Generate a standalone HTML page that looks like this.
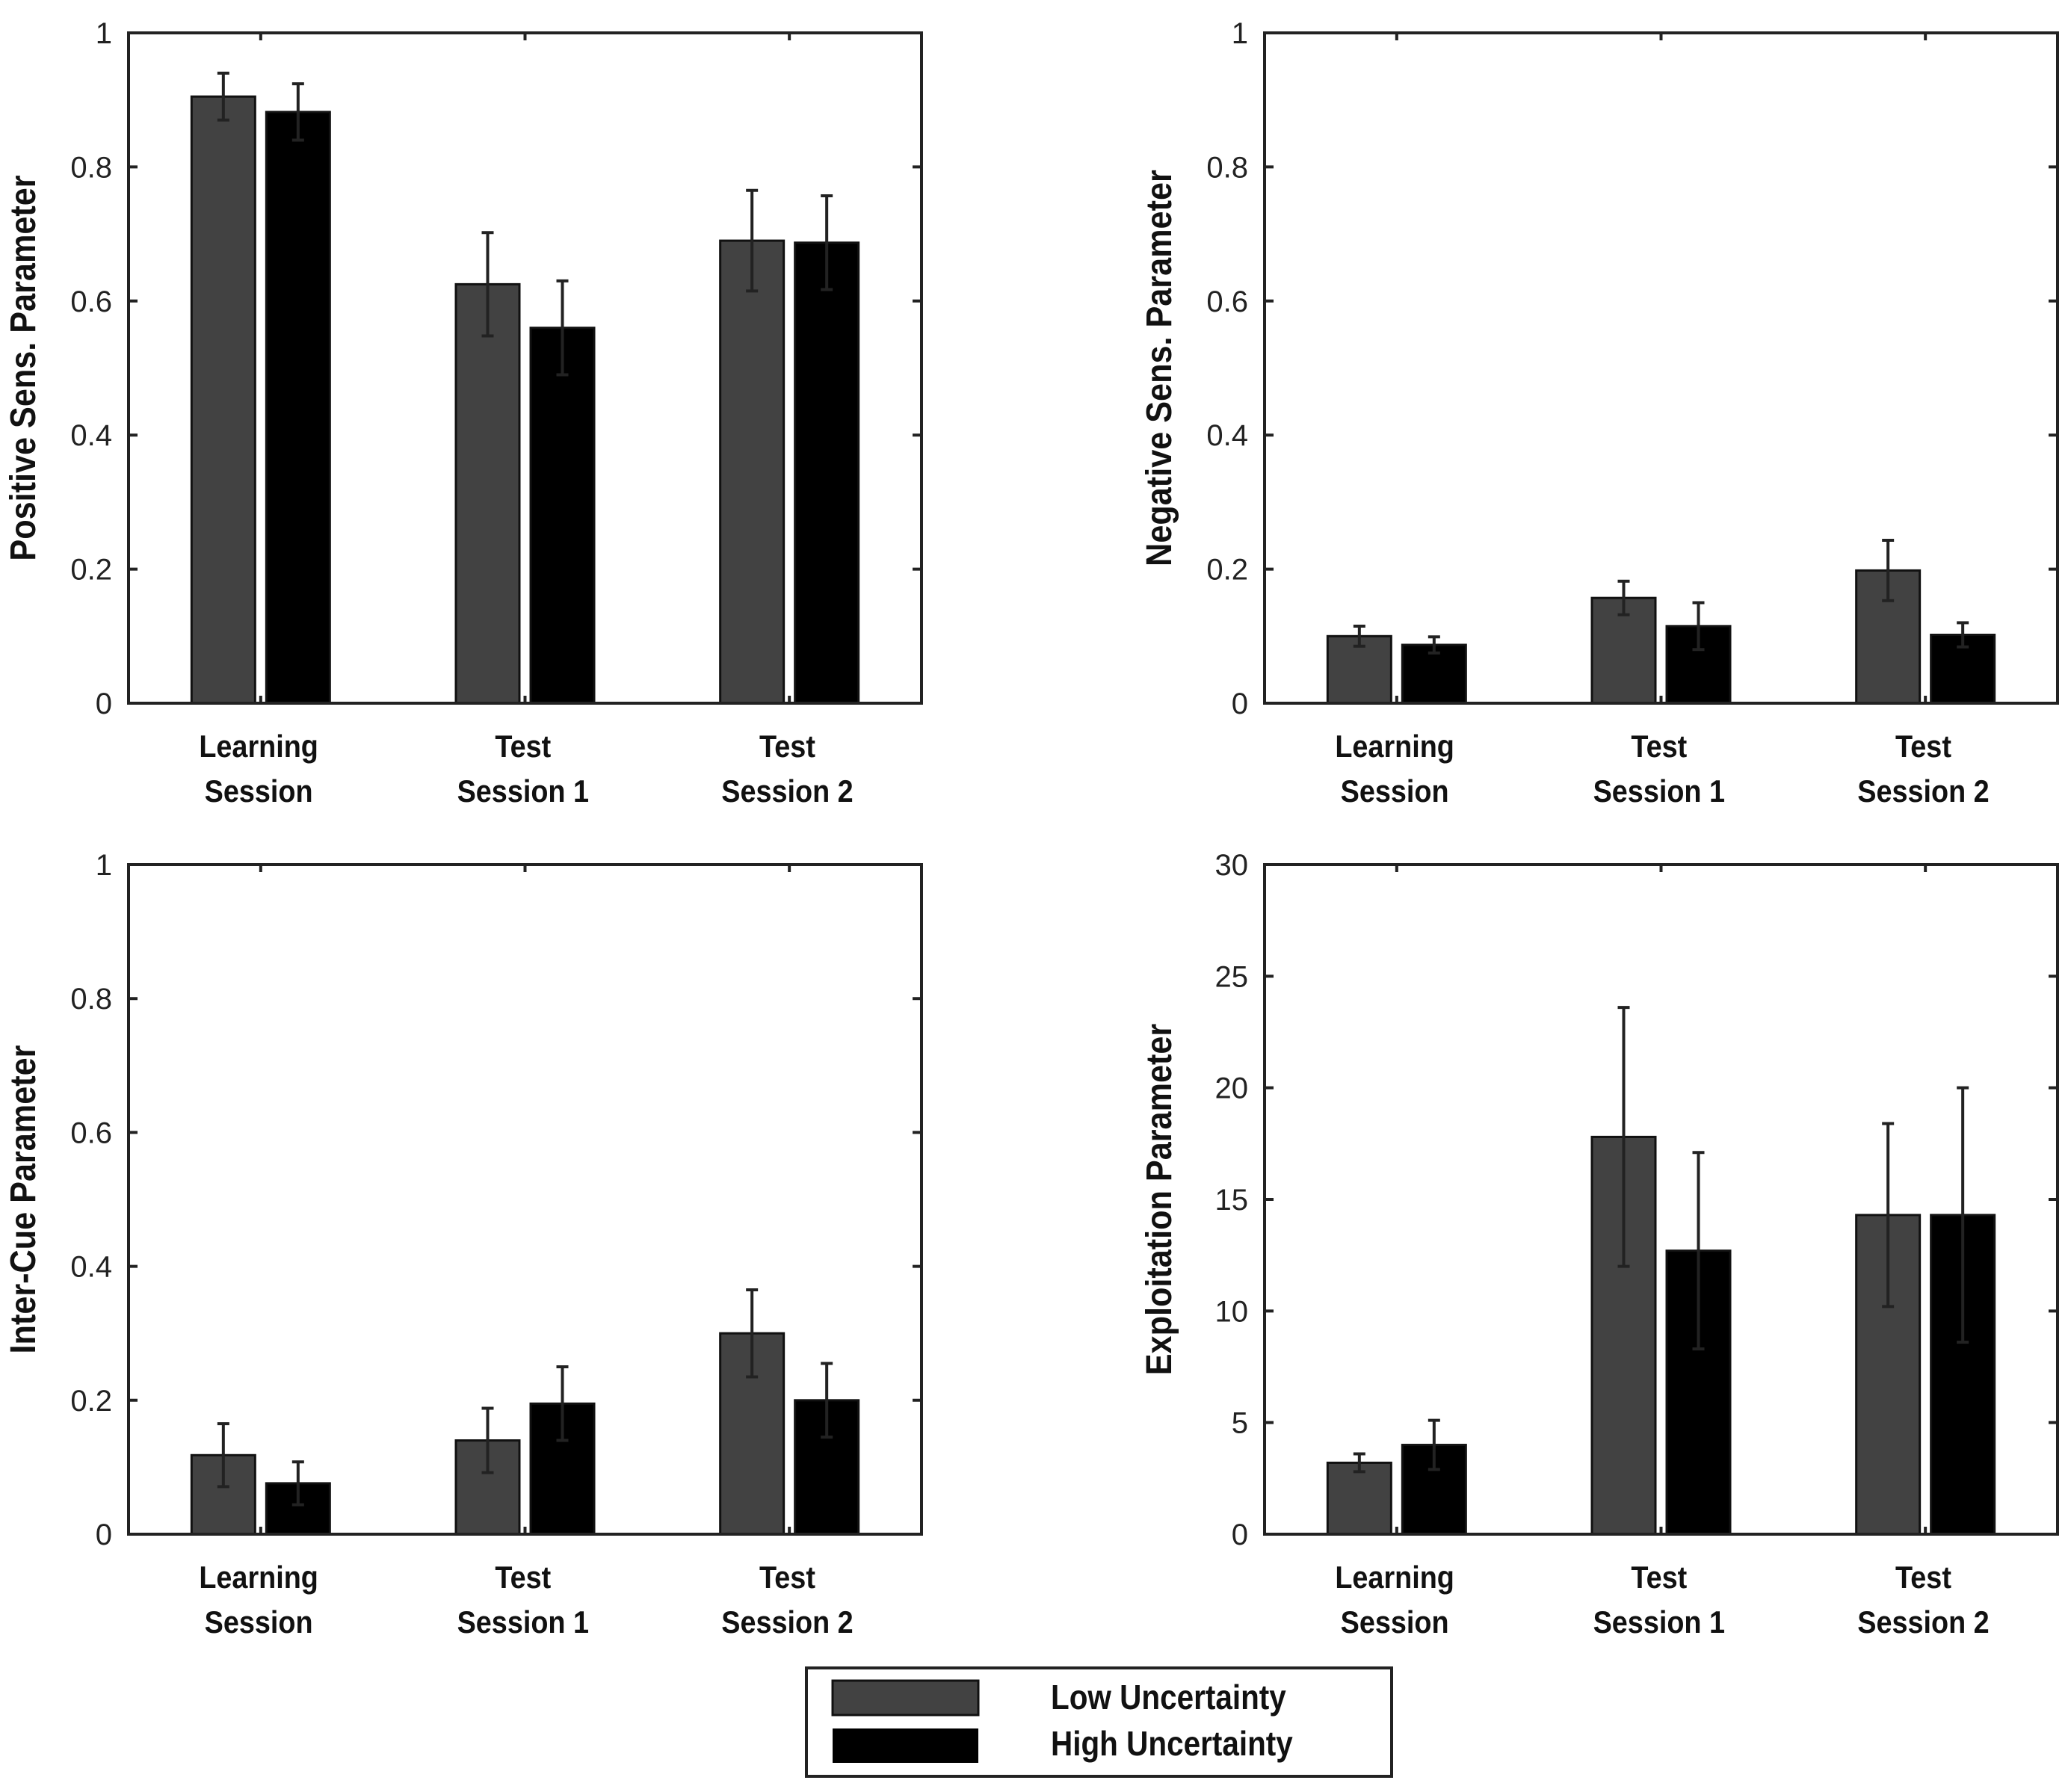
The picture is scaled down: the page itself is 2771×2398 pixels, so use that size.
<!DOCTYPE html>
<html><head><meta charset="utf-8"><style>
body{margin:0;background:#fff}
svg{display:block}
text{font-family:"Liberation Sans",sans-serif}
</style></head><body>
<svg id="c" width="2771" height="2398" viewBox="0 0 2771 2398" xmlns="http://www.w3.org/2000/svg"></svg>
<script>
const categories = [["Learning","Session"],["Test","Session 1"],["Test","Session 2"]];
const posLow = [0.905,0.625,0.69];
const posLowErr = [0.035,0.077,0.075];
const posHigh = [0.882,0.56,0.687];
const posHighErr = [0.042,0.07,0.07];
const negLow = [0.1,0.157,0.198];
const negLowErr = [0.015,0.025,0.045];
const negHigh = [0.087,0.115,0.102];
const negHighErr = [0.012,0.035,0.018];
const icLow = [0.118,0.14,0.3];
const icLowErr = [0.047,0.048,0.065];
const icHigh = [0.076,0.195,0.2];
const icHighErr = [0.032,0.055,0.055];
const exLow = [3.2,17.8,14.3];
const exLowErr = [0.4,5.8,4.1];
const exHigh = [4.0,12.7,14.3];
const exHighErr = [1.1,4.4,5.7];
const ticks01 = [0,0.2,0.4,0.6,0.8,1];
const tickLabels01 = ["0","0.2","0.4","0.6","0.8","1"];
const ticks30 = [0,5,10,15,20,25,30];
const tickLabels30 = ["0","5","10","15","20","25","30"];

const NS="http://www.w3.org/2000/svg";
const svg=document.getElementById('c');
function mk(tag,attrs,parent){const e=document.createElementNS(NS,tag);for(const k in attrs)e.setAttribute(k,attrs[k]);(parent||svg).appendChild(e);return e;}

const panels=[
 {name:'positive-sens',x0:172,x1:1233,y0:44,y1:941,max:1,ticks:ticks01,tl:tickLabels01,lo:posLow,loE:posLowErr,hi:posHigh,hiE:posHighErr,title:'Positive Sens. Parameter'},
 {name:'negative-sens',x0:1692,x1:2753,y0:44,y1:941,max:1,ticks:ticks01,tl:tickLabels01,lo:negLow,loE:negLowErr,hi:negHigh,hiE:negHighErr,title:'Negative Sens. Parameter'},
 {name:'inter-cue',x0:172,x1:1233,y0:1157,y1:2053,max:1,ticks:ticks01,tl:tickLabels01,lo:icLow,loE:icLowErr,hi:icHigh,hiE:icHighErr,title:'Inter-Cue Parameter'},
 {name:'exploitation',x0:1692,x1:2753,y0:1157,y1:2053,max:30,ticks:ticks30,tl:tickLabels30,lo:exLow,loE:exLowErr,hi:exHigh,hiE:exHighErr,title:'Exploitation Parameter'}
];
panels.forEach(p=>{
 const g=mk('g',{});
 
 
 const y=v=>p.y1-(v/p.max)*(p.y1-p.y0);
 const xc=i=>p.x0+(p.x1-p.x0)*(2*i+1)/6;
 const bw=85, off=50;
 function bar(i,v,e,fill,nm){
  const b=mk('rect',{x:xc(i)+off*(nm==='low'?-1:1)-bw/2,y:y(v),width:bw,height:p.y1-y(v),fill:fill,stroke:'#111','stroke-width':3},g);
  
  
  const cx=xc(i)+off*(nm==='low'?-1:1);
  const eb=mk('path',{d:`M${cx},${y(v+e)}V${y(v-e)}M${cx-8},${y(v+e)}H${cx+8}M${cx-8},${y(v-e)}H${cx+8}`,stroke:'#222','stroke-width':4,fill:'none'},g);
  
  
 }
 for(let i=0;i<3;i++){bar(i,p.lo[i],p.loE[i],'#424242','low');bar(i,p.hi[i],p.hiE[i],'#000','high');}
 const ax=mk('rect',{x:p.x0,y:p.y0,width:p.x1-p.x0,height:p.y1-p.y0,fill:'none',stroke:'#222','stroke-width':4},g);
 
 
 p.ticks.forEach((t,k)=>{
  mk('path',{d:`M${p.x0},${y(t)}h12M${p.x1},${y(t)}h-12`,stroke:'#222','stroke-width':4},g);
  const tx=mk('text',{x:p.x0-22,y:y(t)+14,'text-anchor':'end','font-size':40,fill:'#222'},g);
  tx.textContent=p.tl[k];
  
  
 });
 for(let i=0;i<3;i++){
  mk('path',{d:`M${xc(i)},${p.y0}v10M${xc(i)},${p.y1}v-10`,stroke:'#222','stroke-width':4},g);
  categories[i].forEach((s,j)=>{
   const t=mk('text',{x:xc(i)-3,y:p.y1+72+j*60,'text-anchor':'middle','font-size':42,'font-weight':'bold',fill:'#111',transform:`translate(${xc(i)},0) scale(0.9,1) translate(${-xc(i)},0)`},g);
   t.textContent=s;
   
   
  });
 }
 const ym=(p.y0+p.y1)/2, xt=p.x0-125;
 const yt=mk('text',{x:xt,y:ym,'text-anchor':'middle','font-size':48,'font-weight':'bold',fill:'#111',transform:`rotate(-90 ${xt} ${ym}) translate(${xt},0) scale(0.9,1) translate(${-xt},0)`},g);
 yt.textContent=p.title;
 
 
});
const lg=mk('g',{});


mk('rect',{x:1079,y:2232,width:783,height:145,fill:'#fff',stroke:'#222','stroke-width':4},lg);
const s1=mk('rect',{x:1114,y:2249,width:195,height:46,fill:'#424242',stroke:'#111','stroke-width':3},lg);


const s2=mk('rect',{x:1114,y:2313,width:195,height:46,fill:'#000'},lg);


const l1=mk('text',{x:1406,y:2287,'font-size':46,'font-weight':'bold',fill:'#111',transform:'translate(1406,0) scale(0.88,1) translate(-1406,0)'},lg);
l1.textContent='Low Uncertainty';


const l2=mk('text',{x:1406,y:2349,'font-size':46,'font-weight':'bold',fill:'#111',transform:'translate(1406,0) scale(0.88,1) translate(-1406,0)'},lg);
l2.textContent='High Uncertainty';


</script>
</body></html>
